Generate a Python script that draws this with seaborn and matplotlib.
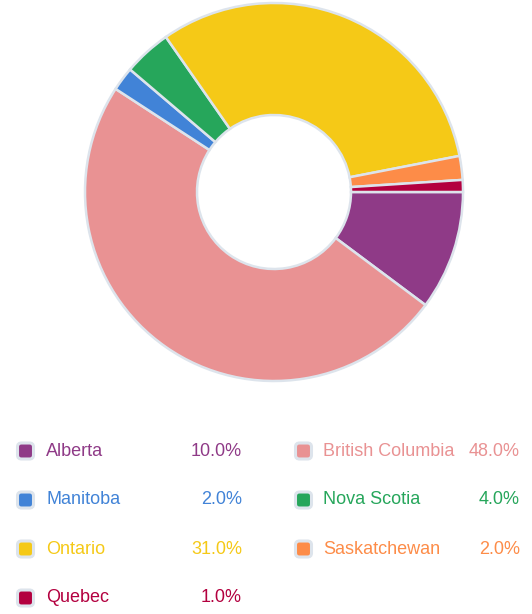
import seaborn as sns
import matplotlib.pyplot as plt
from matplotlib.patches import FancyBboxPatch

provinces = ['Alberta', 'British Columbia', 'Manitoba', 'Nova Scotia',
             'Ontario', 'Saskatchewan', 'Quebec']
shares = [10.0, 48.0, 2.0, 4.0, 31.0, 2.0, 1.0]
colors = sns.color_palette(['#8f3a87', '#e99293', '#4183d7', '#26a65b',
                            '#f5c917', '#fd8c48', '#b3003f'])

sns.set_theme(style='white')
plt.rcParams['font.family'] = ['Liberation Sans', 'DejaVu Sans']

W, H = 532, 614
fig = plt.figure(figsize=(W / 100, H / 100), dpi=100)
ax = fig.add_axes([0, 0, 1, 1])

# donut, drawn in pixel coordinates
cx, cy, r_out, r_in = 274, H - 192, 189, 77
ax.pie(shares, colors=colors, startangle=0, counterclock=False,
       center=(cx, cy), radius=r_out,
       wedgeprops=dict(width=r_out - r_in, edgecolor='#dde4ec', linewidth=1.8))

# legend grid
col_marker = [25.5, 303.5]
col_label = [46, 323]
col_value = [242, 520]
row_y = [451, 500, 549, 598]
for i, (name, val, c) in enumerate(zip(provinces, shares, colors)):
    col, row = i % 2, i // 2
    y = H - row_y[row]
    ax.add_patch(FancyBboxPatch((col_marker[col] - 8, y - 8), 16, 16,
                                boxstyle='round,pad=0,rounding_size=4',
                                facecolor=c, edgecolor='#dde4ec', linewidth=2.2))
    ax.text(col_label[col], y, name, color=c, fontsize=13, va='center', ha='left')
    ax.text(col_value[col], y, f'{val:.1f}%', color=c, fontsize=13,
            va='center', ha='right')

ax.set_xlim(0, W)
ax.set_ylim(0, H)
ax.set_aspect('auto')
ax.axis('off')
fig.savefig('out.png', dpi=100)
